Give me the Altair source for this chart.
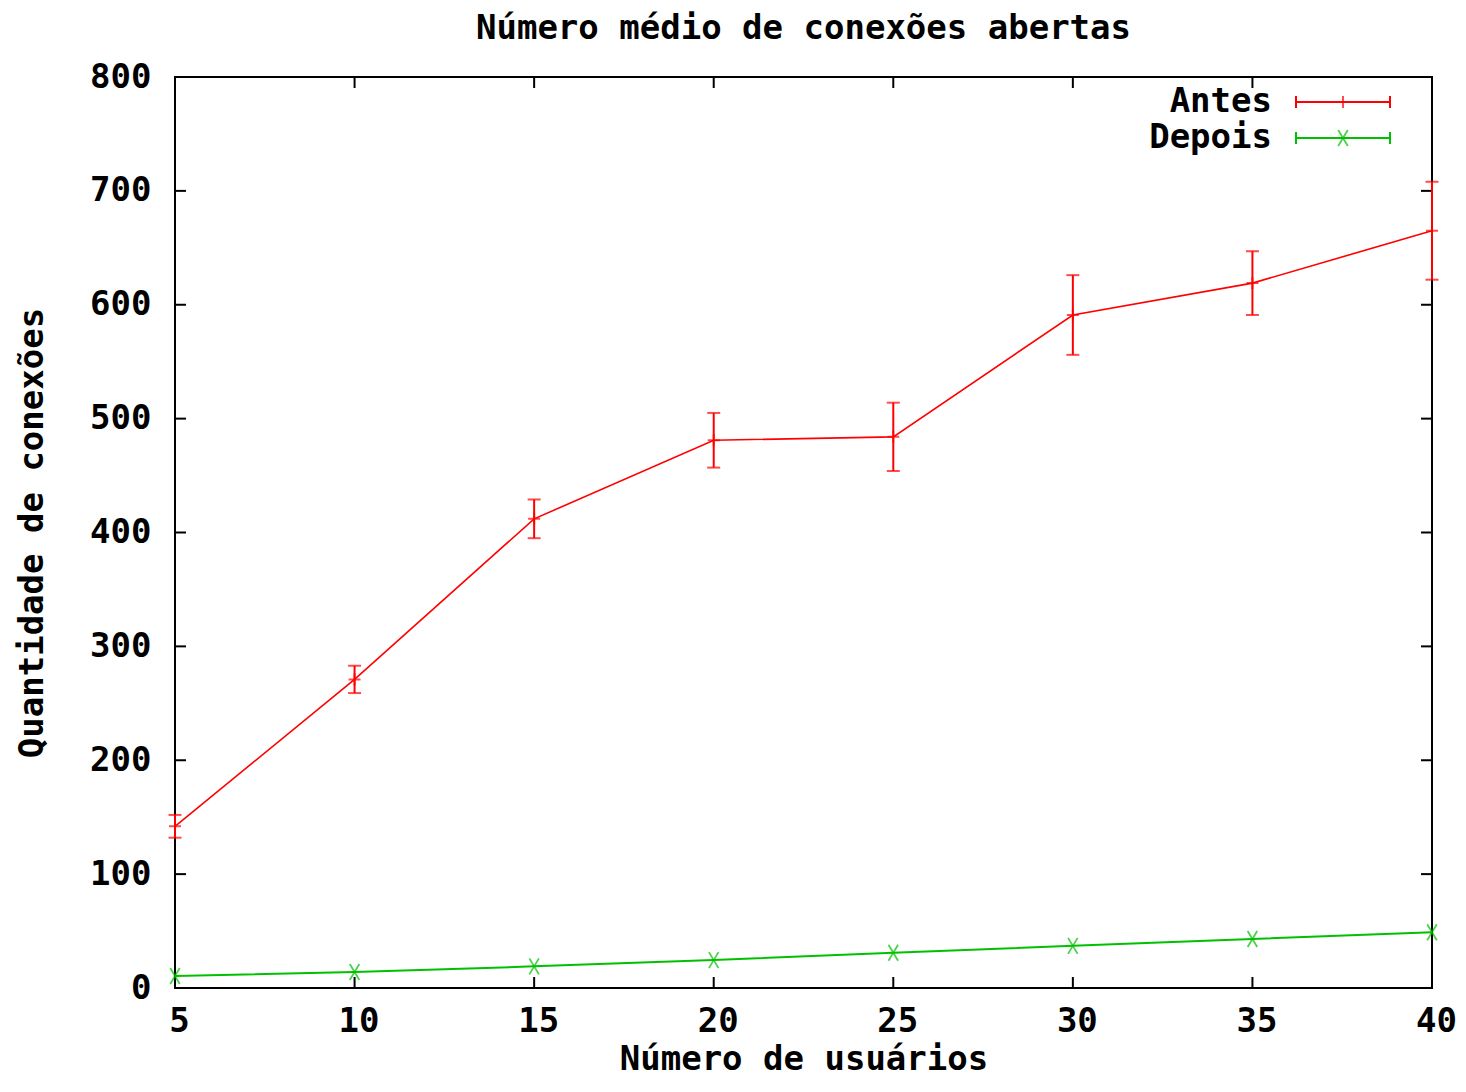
import altair as alt
import pandas as pd

# ---------------- data ----------------
usuarios = [5, 10, 15, 20, 25, 30, 35, 40]
antes = [142, 271, 412, 481, 484, 591, 619, 665]
antes_err = [10, 12, 17, 24, 30, 35, 28, 43]
depois = [10.5, 14, 19, 24.5, 31, 37, 43, 49]
series_names = ["Antes", "Depois"]
y_ticks = [0, 100, 200, 300, 400, 500, 600, 700, 800]
x_ticks = [5, 10, 15, 20, 25, 30, 35, 40]

title_text = "Número médio de conexões abertas"
x_title = "Número de usuários"
y_title = "Quantidade de conexões"

# ---------------- styling ----------------
W, H = 1257, 911
FONT = "DejaVu Sans Mono"
FS = 34
RED = "#ff0000"
GREEN = "#00c000"
TICK = 11

df_a = pd.DataFrame({
    "x": usuarios,
    "y": antes,
    "lo": [v - e for v, e in zip(antes, antes_err)],
    "hi": [v + e for v, e in zip(antes, antes_err)],
})
df_d = pd.DataFrame({"x": usuarios, "y": depois})
df_yt = pd.DataFrame({"v": y_ticks})
df_xt = pd.DataFrame({"v": x_ticks})

xs = alt.Scale(domain=[5, 40], nice=False, zero=False)
ys = alt.Scale(domain=[0, 800], nice=False, zero=False)

x_axis = alt.Axis(values=x_ticks, title=x_title, ticks=False, tickSize=0, domain=False,
                  grid=False, labelFont=FONT, labelFontSize=FS, labelFontWeight="bold",
                  labelColor="black", labelPadding=16, labelOffset=4, labelFlush=False,
                  titleFont=FONT, titleFontSize=FS, titleFontWeight="bold",
                  titleColor="black", titlePadding=4)
y_axis = alt.Axis(values=y_ticks, title=y_title, ticks=False, tickSize=0, domain=False,
                  grid=False, labelFont=FONT, labelFontSize=FS, labelFontWeight="bold",
                  labelColor="black", labelPadding=24, labelFlush=False,
                  titleFont=FONT, titleFontSize=FS, titleFontWeight="bold",
                  titleColor="black", titlePadding=40)


def X(field):
    return alt.X(field, type="quantitative", scale=xs, axis=x_axis)


def Y(field):
    return alt.Y(field, type="quantitative", scale=ys, axis=y_axis)


plus_path = "M-1,0L1,0M0,-1L0,1"
x_path = "M-0.6,-1L0.6,1M-0.6,1L0.6,-1"

# Antes
a_line = alt.Chart(df_a).mark_line(color=RED, strokeWidth=1.6).encode(x=X("x"), y=Y("y"))
a_err = alt.Chart(df_a).mark_rule(color=RED, strokeWidth=2).encode(x=X("x"), y=Y("lo"), y2="hi")
a_cap_lo = alt.Chart(df_a).mark_tick(color=RED, orient="horizontal", size=13, thickness=2).encode(x=X("x"), y=Y("lo"))
a_cap_hi = alt.Chart(df_a).mark_tick(color=RED, orient="horizontal", size=13, thickness=2).encode(x=X("x"), y=Y("hi"))
a_pts = alt.Chart(df_a).mark_point(shape=plus_path, size=144, color=RED, strokeWidth=2,
                                   filled=False).encode(x=X("x"), y=Y("y"))

# Depois
d_line = alt.Chart(df_d).mark_line(color=GREEN, strokeWidth=2).encode(x=X("x"), y=Y("y"))
d_pts = alt.Chart(df_d).mark_point(shape=x_path, size=256, color=GREEN, strokeWidth=1.8,
                                   filled=False).encode(x=X("x"), y=Y("y"))

# inward mirrored ticks
tk = dict(color="black", strokeWidth=2)
yt_left = alt.Chart(df_yt).mark_rule(**tk).encode(y=Y("v"), x=alt.value(0), x2=alt.value(TICK))
yt_right = alt.Chart(df_yt).mark_rule(**tk).encode(y=Y("v"), x=alt.value(W - TICK), x2=alt.value(W))
xt_bot = alt.Chart(df_xt).mark_rule(**tk).encode(x=X("v"), y=alt.value(H - TICK), y2=alt.value(H))
xt_top = alt.Chart(df_xt).mark_rule(**tk).encode(x=X("v"), y=alt.value(0), y2=alt.value(TICK))

# legend (gnuplot style: label on the left, sample on the right)
LX_TEXT, LX0, LX1 = 1097, 1121, 1215
LXM = (LX0 + LX1) / 2
legend_layers = []
for name, color, ly, shape, size, sw in [
    (series_names[0], RED, 25, plus_path, 144, 2),
    (series_names[1], GREEN, 61, x_path, 256, 1.8),
]:
    ldf = pd.DataFrame({"serie": [name]})
    legend_layers += [
        alt.Chart(ldf).mark_text(align="right", baseline="middle", font=FONT, fontSize=FS,
                                 fontWeight="bold", color="black").encode(
            text="serie:N", x=alt.value(LX_TEXT), y=alt.value(ly)),
        alt.Chart(ldf).mark_rule(color=color, strokeWidth=2).encode(
            x=alt.value(LX0), x2=alt.value(LX1), y=alt.value(ly)),
        alt.Chart(ldf).mark_rule(color=color, strokeWidth=2).encode(
            x=alt.value(LX0), y=alt.value(ly - 6), y2=alt.value(ly + 6)),
        alt.Chart(ldf).mark_rule(color=color, strokeWidth=2).encode(
            x=alt.value(LX1), y=alt.value(ly - 6), y2=alt.value(ly + 6)),
        alt.Chart(ldf).mark_point(shape=shape, size=size, color=color, strokeWidth=sw,
                                  filled=False).encode(x=alt.value(LXM), y=alt.value(ly)),
    ]

chart = alt.layer(
    yt_left, yt_right, xt_bot, xt_top,
    d_line, d_pts,
    a_line, a_err, a_cap_lo, a_cap_hi, a_pts,
    *legend_layers,
).properties(
    width=W,
    height=H,
    title=alt.TitleParams(title_text, font=FONT, fontSize=FS, fontWeight="bold",
                          color="black", anchor="middle", offset=14),
    autosize=alt.AutoSizeParams(type="none"),
    padding={"left": 167, "top": 69, "right": 26, "bottom": 91},
).configure(
    background="white"
).configure_view(
    stroke="black", strokeWidth=2
)

chart.save("out.html", embed_options={"renderer": "svg", "actions": False})
